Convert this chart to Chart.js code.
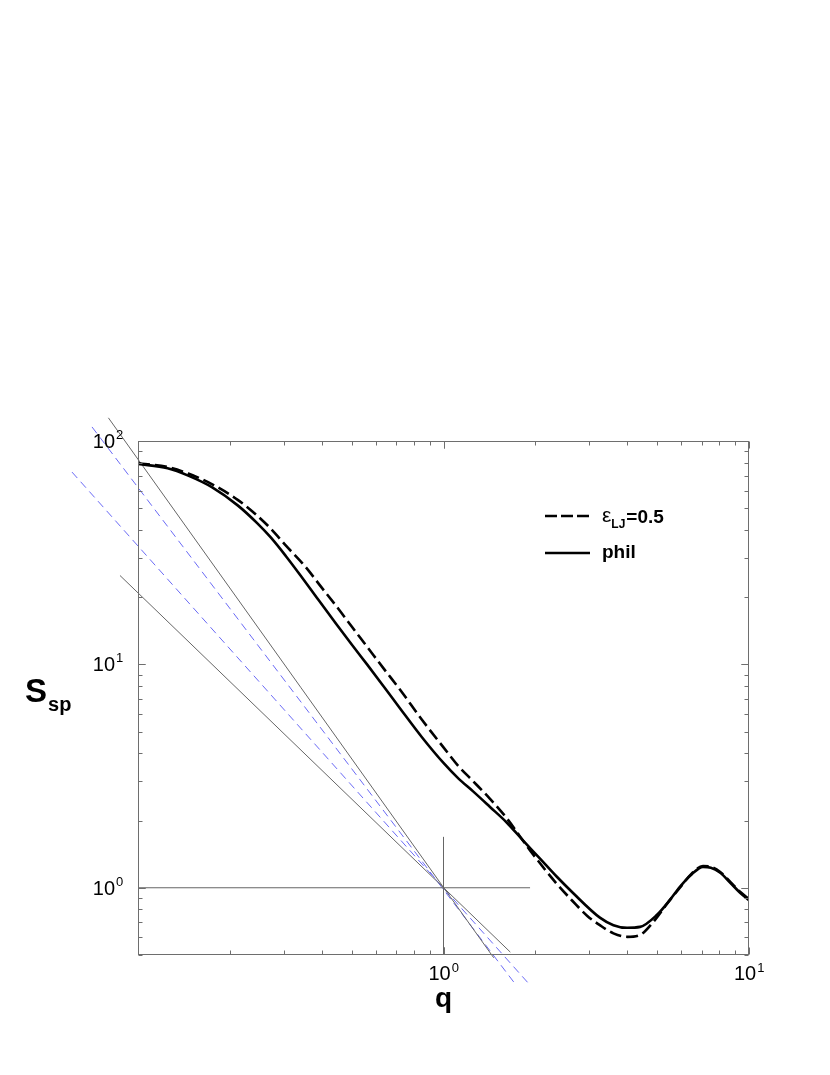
<!DOCTYPE html>
<html>
<head>
<meta charset="utf-8">
<script src="https://cdn.jsdelivr.net/npm/chart.js@4.4.1/dist/chart.umd.min.js"></script>
<style>
  html, body { margin: 0; padding: 0; background: #fff; }
  #wrap { width: 830px; height: 1075px; }
</style>
</head>
<body>
<div id="wrap"><canvas id="chSsp" width="830" height="1075"></canvas></div>
<script>
/* ── dati ── */
const qPhil = [0.1, 0.125, 0.146, 0.175, 0.212, 0.245, 0.272, 0.305, 0.339, 0.39, 0.445, 0.5, 0.562, 0.64, 0.721, 0.85,
               1.0, 1.12, 1.25, 1.42, 1.61, 1.82, 2.07, 2.35, 2.65, 3.25, 3.6, 3.99, 4.4, 5.0, 5.5, 5.94, 6.5, 7.07, 7.5, 8.03, 8.7, 9.35, 10];
const sPhil = [79, 75.5, 70, 62, 51.5, 43, 37, 30.5, 25.2, 19.4, 15.2, 12.3, 10.0, 7.9, 6.35, 4.72,
               3.62, 3.08, 2.7, 2.3, 1.96, 1.63, 1.35, 1.12, 0.95, 0.735, 0.68, 0.662, 0.668, 0.757, 0.88, 1.01, 1.15, 1.24, 1.23, 1.17, 1.05, 0.95, 0.88];

const qLJ = [0.1, 0.125, 0.146, 0.175, 0.212, 0.245, 0.272, 0.305, 0.352, 0.40, 0.452, 0.5, 0.562, 0.64, 0.721, 0.85,
             1.0, 1.12, 1.25, 1.42, 1.61, 1.92, 2.35, 2.65, 2.95, 3.25, 3.6, 3.99, 4.4, 4.85, 5.4, 5.94, 6.5, 7.07, 7.5, 8.03, 8.7, 9.35, 10];
const sLJ = [79.5, 76.5, 71.5, 64, 54.5, 46.5, 40.5, 34, 27.5, 22, 17.8, 14.8, 12.0, 9.5, 7.7, 5.65,
             4.25, 3.5, 3.0, 2.5, 2.05, 1.47, 1.04, 0.87, 0.75, 0.68, 0.625, 0.603, 0.615, 0.7, 0.85, 1.0, 1.16, 1.25, 1.24, 1.18, 1.06, 0.96, 0.89];

// rette di riferimento (estremi)
const greySteep   = [[0.080, 127], [1.46, 0.486]];
const greyShallow = [[0.0873, 25], [1.655, 0.515]];
const greyHoriz   = [[0.1, 1], [1.92, 1]];
const greyVert    = [[1, 0.5], [1, 1.69]];
const blueSteep   = [[0.0707, 115.6], [1.727, 0.367]];
const blueShallow = [[0.0608, 72.6], [1.905, 0.371]];

const xTickLabels = [[1, '0'], [10, '1']];
const yTickLabels = [[1, '0'], [10, '1'], [100, '2']];

const pts = (xs, ys) => xs.map((x, i) => ({ x, y: ys[i] }));
const seg = arr => arr.map(p => ({ x: p[0], y: p[1] }));

const FONT = "'Liberation Sans', Arial, Helvetica, sans-serif";
const AXIS = '#6e6e6e';

const refLine = (data, color, dash) => ({
  data: seg(data), borderColor: color, borderWidth: 1, borderDash: dash || [],
  pointRadius: 0, tension: 0, clip: false, order: 5
});

/* ── cornice, tacche, etichette, titoli e legenda ── */
const framePlugin = {
  id: 'frame',
  afterDraw(chart) {
    const ctx = chart.ctx, a = chart.chartArea;
    const xs = chart.scales.x, ys = chart.scales.y;
    ctx.save();
    ctx.strokeStyle = AXIS;
    ctx.lineWidth = 1;
    const L = Math.round(a.left) + 0.5, R = Math.round(a.right) - 0.5;
    const T = Math.round(a.top) + 0.5, B = Math.round(a.bottom) - 0.5;
    ctx.strokeRect(L, T, R - L, B - T);

    ctx.beginPath();
    [0.1, 1].forEach(d => {
      for (let m = 1; m <= 10; m++) {
        const v = d * m;
        if (v < 0.1 || v > 10) continue;
        const px = Math.round(xs.getPixelForValue(v)) + 0.5;
        const len = (m === 1 || m === 10) ? 7 : 4;
        ctx.moveTo(px, B); ctx.lineTo(px, B - len);
        ctx.moveTo(px, T); ctx.lineTo(px, T + len);
      }
    });
    [0.1, 1, 10].forEach(d => {
      for (let m = 1; m <= 10; m++) {
        const v = d * m;
        if (v < 0.5 || v > 100) continue;
        const py = Math.round(ys.getPixelForValue(v)) + 0.5;
        const len = (m === 1 || m === 10) ? 7 : 4;
        ctx.moveTo(L, py); ctx.lineTo(L + len, py);
        ctx.moveTo(R, py); ctx.lineTo(R - len, py);
      }
    });
    ctx.stroke();

    ctx.fillStyle = '#000';
    ctx.textBaseline = 'alphabetic';
    // etichette asse x
    xTickLabels.forEach(([v, e]) => {
      const px = xs.getPixelForValue(v);
      ctx.font = '20px ' + FONT;
      ctx.textAlign = 'left';
      ctx.fillText('10', px - 15, a.bottom + 25);
      const w = ctx.measureText('10').width;
      ctx.font = '13px ' + FONT;
      ctx.fillText(e, px - 15 + w + 1, a.bottom + 17);
    });
    // etichette asse y
    yTickLabels.forEach(([v, e]) => {
      const py = ys.getPixelForValue(v);
      ctx.font = '20px ' + FONT;
      ctx.textAlign = 'right';
      ctx.fillText('10', a.left - 23, py + 7);
      ctx.font = '13px ' + FONT;
      ctx.textAlign = 'left';
      ctx.fillText(e, a.left - 22, py - 2);
    });

    // titoli
    ctx.textAlign = 'left';
    ctx.font = 'bold 33px ' + FONT;
    ctx.fillText('S', 25, 702);
    const sw = ctx.measureText('S').width;
    ctx.font = 'bold 20px ' + FONT;
    ctx.fillText('sp', 25 + sw + 1, 711);

    ctx.font = 'bold 28px ' + FONT;
    ctx.textAlign = 'center';
    ctx.fillText('q', (a.left + a.right) / 2, 1007);

    // legenda
    ctx.strokeStyle = '#000';
    ctx.lineWidth = 2.5;
    ctx.setLineDash([12, 4]);
    ctx.beginPath(); ctx.moveTo(545, 516); ctx.lineTo(590, 516); ctx.stroke();
    ctx.setLineDash([]);
    ctx.beginPath(); ctx.moveTo(545, 553); ctx.lineTo(590, 553); ctx.stroke();

    ctx.textAlign = 'left';
    let x = 602;
    ctx.font = '21px ' + FONT;
    ctx.fillText('ε', x, 522);
    x += ctx.measureText('ε').width;
    ctx.font = 'bold 12px ' + FONT;
    ctx.fillText('LJ', x, 528);
    x += ctx.measureText('LJ').width + 1;
    ctx.font = 'bold 19px ' + FONT;
    ctx.fillText('=0.5', x, 523);
    ctx.fillText('phil', 602, 558);
    ctx.restore();
  }
};

new Chart(document.getElementById('chSsp'), {
  type: 'line',
  data: {
    datasets: [
      { label: 'phil', data: pts(qPhil, sPhil), borderColor: '#000', borderWidth: 2.6,
        pointRadius: 0, cubicInterpolationMode: 'monotone', order: 1 },
      { label: 'εLJ=0.5', data: pts(qLJ, sLJ), borderColor: '#000', borderWidth: 2.6,
        borderDash: [12, 5], pointRadius: 0, cubicInterpolationMode: 'monotone', order: 2 },
      refLine(greySteep, '#666'),
      refLine(greyShallow, '#666'),
      refLine(greyHoriz, '#666'),
      refLine(greyVert, '#666'),
      refLine(blueSteep, '#6a6af5', [8, 5]),
      refLine(blueShallow, '#6a6af5', [8, 5])
    ]
  },
  options: {
    responsive: false, animation: false, devicePixelRatio: 1,
    layout: { padding: { left: 138, right: 81, top: 441, bottom: 120 } },
    plugins: { legend: { display: false }, tooltip: { enabled: false } },
    scales: {
      x: { type: 'logarithmic', min: 0.1, max: 10, display: false },
      y: { type: 'logarithmic', min: 0.5, max: 100, display: false }
    }
  },
  plugins: [framePlugin]
});
</script>
</body>
</html>
